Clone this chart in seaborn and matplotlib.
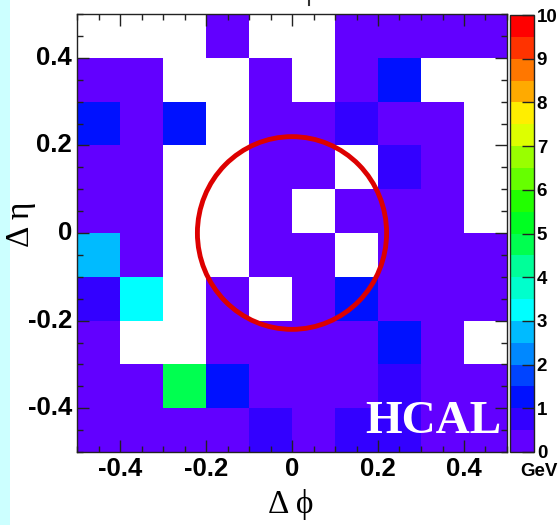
import numpy as np
import pandas as pd
import seaborn as sns
import matplotlib
matplotlib.use("Agg")
import matplotlib.pyplot as plt
from matplotlib.colors import ListedColormap
from matplotlib.patches import Ellipse, Rectangle
from matplotlib.lines import Line2D

# Tower bin centres (delta phi left to right, delta eta top to bottom)
phi_centers = [-0.45, -0.35, -0.25, -0.15, -0.05, 0.05, 0.15, 0.25, 0.35, 0.45]
eta_centers = [0.45, 0.35, 0.25, 0.15, 0.05, -0.05, -0.15, -0.25, -0.35, -0.45]

# HCAL tower energies in GeV, one row per eta bin (0 = empty tower)
e_eta_p45 = [0.0, 0.0, 0.0, 0.3, 0.0, 0.0, 0.3, 0.3, 0.3, 0.3]
e_eta_p35 = [0.3, 0.3, 0.0, 0.0, 0.3, 0.0, 0.3, 1.2, 0.0, 0.0]
e_eta_p25 = [1.2, 0.3, 1.2, 0.0, 0.3, 0.3, 0.7, 0.3, 0.3, 0.0]
e_eta_p15 = [0.3, 0.3, 0.0, 0.0, 0.3, 0.3, 0.0, 0.7, 0.3, 0.0]
e_eta_p05 = [0.3, 0.3, 0.0, 0.0, 0.3, 0.0, 0.3, 0.3, 0.3, 0.0]
e_eta_m05 = [2.7, 0.3, 0.0, 0.0, 0.3, 0.3, 0.0, 0.3, 0.3, 0.3]
e_eta_m15 = [0.7, 3.2, 0.0, 0.3, 0.0, 0.3, 1.2, 0.3, 0.3, 0.3]
e_eta_m25 = [0.3, 0.0, 0.0, 0.3, 0.3, 0.3, 0.3, 1.3, 0.3, 0.0]
e_eta_m35 = [0.3, 0.3, 4.8, 1.2, 0.3, 0.3, 0.3, 0.7, 0.3, 0.3]
e_eta_m45 = [0.3, 0.3, 0.3, 0.3, 0.7, 0.3, 0.7, 0.7, 0.3, 0.3]

tick_values = [-0.4, -0.2, 0.0, 0.2, 0.4]
tick_labels = ["-0.4", "-0.2", "0", "0.2", "0.4"]
cbar_ticks = [0, 1, 2, 3, 4, 5, 6, 7, 8, 9, 10]

cone_radius = 0.22
bin_width = 0.1
phi_min, eta_max = -0.5, 0.5

rows = [e_eta_p45, e_eta_p35, e_eta_p25, e_eta_p15, e_eta_p05,
        e_eta_m05, e_eta_m15, e_eta_m25, e_eta_m35, e_eta_m45]
df = pd.DataFrame(rows, index=eta_centers, columns=phi_centers)

# 20-step rainbow palette, 0.5 GeV per band
palette = ["#6200ff", "#3300ff", "#0011ff", "#0044ff", "#0088ff",
           "#00bbff", "#00ffff", "#00ffcc", "#00ff99", "#00ff50",
           "#00ff22", "#22ff00", "#66ff00", "#99ff00", "#ddff00",
           "#ffee00", "#ffaa00", "#ff7700", "#ff3300", "#ff0000"]
cmap = ListedColormap(palette)

fig = plt.figure(figsize=(5.6, 5.25), dpi=100, facecolor="white")
fig.patches.append(Rectangle((0, 0), 10 / 560, 1, transform=fig.transFigure,
                             facecolor="#ccffff", edgecolor="none", zorder=-5))
fig.add_artist(Line2D([309 / 560, 309 / 560], [1.0, 1 - 5 / 525],
                      color="#333333", lw=1.5))

ax = fig.add_axes([77 / 560, 73 / 525, 430 / 560, 438 / 525])
cax = fig.add_axes([510 / 560, 73 / 525, 24 / 560, 437 / 525])

sns.heatmap(df, mask=(df == 0), cmap=cmap, vmin=0, vmax=10, ax=ax,
            cbar_ax=cax, linewidths=0)


def col_pos(phi):
    return (phi - phi_min) / bin_width


def row_pos(eta):
    return (eta_max - eta) / bin_width


# cone around the jet axis
ax.add_patch(Ellipse((col_pos(0.0), row_pos(0.0)),
                     2 * cone_radius / bin_width, 2 * cone_radius / bin_width,
                     fill=False, edgecolor="#dd0000", lw=3.5, zorder=5))

minor_vals = np.arange(-0.5, 0.5001, 0.05)
ax.set_xticks([col_pos(v) for v in tick_values])
ax.set_xticklabels(tick_labels, rotation=0)
ax.set_xticks([col_pos(v) for v in minor_vals], minor=True)
ax.set_yticks([row_pos(v) for v in tick_values])
ax.set_yticklabels(tick_labels, rotation=0)
ax.set_yticks([row_pos(v) for v in minor_vals], minor=True)
ax.set_xlabel("")
ax.set_ylabel("")

for s in ax.spines.values():
    s.set_visible(True)
    s.set_color("#222222")
    s.set_linewidth(1.0)

ax.tick_params(which="both", direction="in", top=True, right=True,
               bottom=True, left=True, color="#222222", width=1.0)
ax.tick_params(which="major", length=8.6, pad=3.5)
ax.tick_params(which="minor", length=4.3)
for lab in ax.get_xticklabels() + ax.get_yticklabels():
    lab.set_fontfamily("Liberation Sans")
    lab.set_fontweight("bold")
    lab.set_fontsize(18.5)

cbar = ax.collections[0].colorbar
cbar.outline.set_linewidth(1.0)
cbar.outline.set_edgecolor("#222222")
cbar.set_ticks(cbar_ticks)
cbar.set_ticklabels([str(t) for t in cbar_ticks])
cax.tick_params(direction="in", length=8.6, width=1.0, color="#222222",
                pad=2, right=True, left=False)
cax.minorticks_off()
for lab in cax.get_yticklabels():
    lab.set_fontfamily("Liberation Sans")
    lab.set_fontweight("bold")
    lab.set_fontsize(13.5)

fig.text(539 / 560, 1 - 472 / 525, "GeV", ha="center", va="center",
         fontsize=13.5, fontweight="bold", family="Liberation Sans")

ax.text(0.988, 0.043, "HCAL", transform=ax.transAxes, ha="right",
        va="baseline", color="white", fontsize=34, fontweight="bold",
        family=["Liberation Serif", "DejaVu Serif"], zorder=6)

fig.text(291 / 560, 1 - 504 / 525, "\u0394 \u03d5", ha="center", va="center",
         fontsize=24, family=["Liberation Serif", "DejaVu Serif"])
fig.text(21 / 560, 1 - 224 / 525, "\u0394 \u03b7", ha="center", va="center",
         rotation=90, fontsize=24, family=["Liberation Serif", "DejaVu Serif"])

fig.savefig("out.png", dpi=100, facecolor="white")
